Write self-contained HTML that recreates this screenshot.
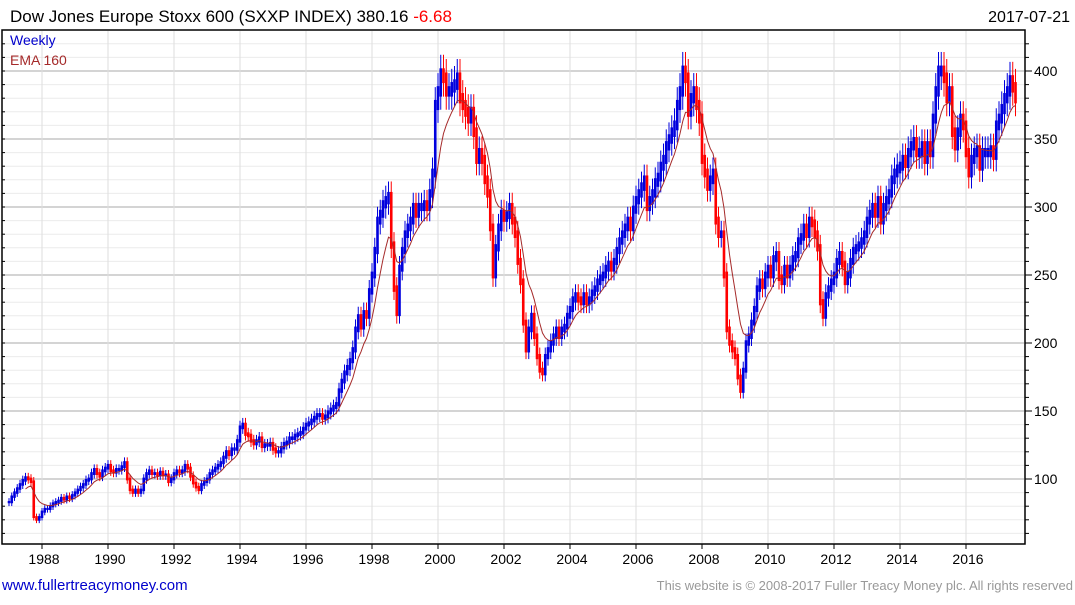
<!DOCTYPE html>
<html><head><meta charset="utf-8"><style>
body{margin:0;background:#fff;width:1075px;height:600px;overflow:hidden;font-family:"Liberation Sans",sans-serif}
</style></head><body>
<svg width="1075" height="600" xmlns="http://www.w3.org/2000/svg">
<text x="10" y="22" font-size="17" fill="#000">Dow Jones Europe Stoxx 600 (SXXP INDEX) 380.16 <tspan fill="#f00">-6.68</tspan></text>
<text x="1070" y="22" font-size="16" text-anchor="end" fill="#000">2017-07-21</text>
<g id="grid"></g>
<g id="bars"></g>
<path id="ema" fill="none" stroke="#a52a2a" stroke-width="1"/>
<rect x="2" y="30" width="1023" height="514" fill="none" stroke="#000" stroke-width="1.5"/>
<g id="axes"></g>
<text x="10" y="45" font-size="14" fill="#0000cc">Weekly</text>
<text x="10" y="65" font-size="14" fill="#a52a2a">EMA 160</text>
<text x="2" y="590" font-size="15" fill="#0000cc">www.fullertreacymoney.com</text>
<text x="1073" y="590" font-size="13" fill="#999" text-anchor="end">This website is © 2008-2017 Fuller Treacy Money plc. All rights reserved</text>
</svg>
<script>
const startYear = 1987.0;
const closes = [
83,87,90,93,96,99,101,100,98,72,70,72,
76,78,78,80,82,83,84,86,85,87,86,88,
90,92,94,96,99,100,104,107,104,102,106,108,
110,106,105,107,107,109,112,100,92,90,92,90,
92,100,104,106,104,104,103,105,103,103,98,100,
104,106,105,106,110,108,102,97,94,92,96,98,
100,104,106,108,110,112,116,120,118,122,122,128,
138,140,133,132,128,126,128,130,124,125,125,126,
122,120,120,123,126,127,130,130,132,133,134,137,
140,141,143,145,147,147,145,146,149,151,153,155,
165,172,178,182,187,195,210,219,212,222,220,238,
250,268,290,295,302,305,308,272,240,222,255,268,
280,285,290,300,295,300,300,302,300,310,325,375,
385,398,395,385,385,388,390,395,380,375,370,365,
370,355,335,340,335,320,310,285,250,270,285,295,
292,294,300,290,280,260,245,215,195,210,220,205,
190,180,178,190,195,200,205,210,205,210,212,220,
225,232,235,232,230,235,230,232,237,240,245,248,
250,255,258,255,260,268,275,280,285,290,285,298,
305,310,315,320,300,305,310,318,322,330,335,345,
350,355,360,375,385,400,395,370,380,385,375,365,
335,325,315,320,325,290,280,280,250,210,200,195,
190,175,165,180,200,205,215,225,240,245,242,250,
255,250,262,265,248,245,255,250,255,262,265,275,
278,285,280,290,288,280,270,230,220,235,240,245,
250,260,265,258,245,250,260,268,270,272,275,280,
290,295,300,295,305,290,300,305,310,320,325,328,
330,335,332,340,345,348,340,340,345,335,345,340,
365,385,400,400,395,380,385,355,345,355,365,360,
340,325,335,340,342,330,340,340,340,342,338,360,
365,372,380,385,393,388,380];
const yearLabels = [1988,1990,1992,1994,1996,1998,2000,2002,2004,2006,2008,2010,2012,2014,2016];
const yTicks = [100,150,200,250,300,350,400];

const NS='http://www.w3.org/2000/svg';
const xs = t => 42 + 33.0*(t-1988);
const ys = v => 71 + (400-v)*1.36;
function mk(tag, attrs, parent){const e=document.createElementNS(NS,tag);for(const k in attrs)e.setAttribute(k,attrs[k]);parent.appendChild(e);return e;}
const grid=document.getElementById('grid'), axes=document.getElementById('axes'), bars=document.getElementById('bars');
for(let v=60; v<=420; v+=10){
  const y=ys(v); if(y<31||y>543) continue;
  const major=v%50===0;
  const l=mk('line',{x1:3,x2:1024,y1:y,y2:y,stroke:major?'#bbb':'#ececec','stroke-width':major?1.2:1},grid);
  
  
  const t=mk('line',{x1:1025,x2:major?1032:1029,y1:y,y2:y,stroke:'#000'},axes);
  
  
  const t2=mk('line',{x1:2,x2:5,y1:y,y2:y,stroke:'#000'},axes);
  
  
}
yTicks.forEach(v=>{
  const t=mk('text',{x:1034,y:ys(v)+5,'font-size':14,fill:'#000'},axes);
  t.textContent=v;
  
  
});
yearLabels.forEach(yr=>{
  const x=xs(yr);
  const l=mk('line',{x1:x,x2:x,y1:31,y2:543,stroke:'#ddd'},grid);
  
  
  const tk=mk('line',{x1:x,x2:x,y1:544,y2:549,stroke:'#000'},axes);
  
  
  const t=mk('text',{x:x+2,y:564,'font-size':14,'text-anchor':'middle',fill:'#000'},axes);
  t.textContent=yr;
  
  
});
let prev=closes[0];
closes.forEach((c,i)=>{
  const t=startYear+i/12, x=xs(t);
  const lo=Math.min(prev,c), hi=Math.max(prev,c);
  const body=mk('rect',{x:x-1.3,y:ys(hi*1.01),width:2.6,height:Math.max(1.5,ys(lo*0.99)-ys(hi*1.01)),fill:c>=prev?'#0000dd':'#ff0000'},bars);
  
  
  const w=mk('line',{x1:x,x2:x,y1:ys(hi*1.035),y2:ys(lo*0.965),stroke:c>=prev?'#0000dd':'#ff0000','stroke-width':1},bars);
  
  
  prev=c;
});
const a=2/(9+1); let e=closes[0]; let d='';
closes.forEach((c,i)=>{
  e = i===0?c:e+a*(c-e);
  if(i>=6){ d+=(i===6?'M':'L')+xs(startYear+i/12).toFixed(1)+','+ys(e).toFixed(1); }
});
document.getElementById('ema').setAttribute('d',d);
</script>
</body></html>
